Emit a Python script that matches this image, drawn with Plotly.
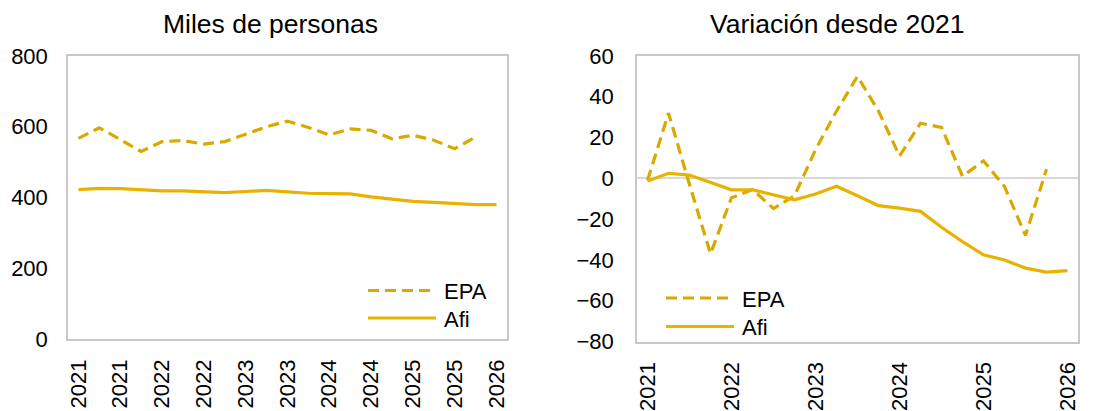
import plotly.graph_objects as go

W, H = 1093, 411

# ---- data ----
quarters = list(range(21))  # 2021Q1 .. 2026Q1
left_ticktext = ["2021", "2021", "2022", "2022", "2023", "2023",
                 "2024", "2024", "2025", "2025", "2026"]
left_tickvals = [0, 2, 4, 6, 8, 10, 12, 14, 16, 18, 20]
right_ticktext = ["2021", "2022", "2023", "2024", "2025", "2026"]
right_tickvals = [0, 4, 8, 12, 16, 20]

epa_level = [567, 597, 564, 530, 558, 561, 551, 558, 579, 600,
             616, 598, 577, 594, 590, 566, 576, 562, 538, 571]
afi_level = [422, 426, 425, 422, 419, 419, 416, 414, 417, 420,
             416, 412, 411, 410, 402, 395, 389, 386, 382, 380, 380]

epa_var = [-1, 32, -3, -37, -9.5, -5.5, -14.8, -8.5, 14, 33,
           50, 33, 11, 27, 25, 1, 8.6, -4, -28, 4.5]
afi_var = [-1.3, 2.5, 1.6, -2, -5.6, -5.6, -8.2, -10.5, -7.7, -3.9,
           -8.5, -13.4, -14.6, -16.2, -24, -31, -37.5, -40, -44, -46, -45.2]

EPA_COLOR = "#DAA900"
AFI_COLOR = "#E8B200"
FONT = "Liberation Sans, Arial, sans-serif"
BORDER = "#C8C8C8"


def px(x):
    return x / W


def py(y):
    return 1 - y / H


fig = go.Figure()

fig.add_trace(go.Scatter(x=quarters[:len(epa_level)], y=epa_level, mode="lines",
                         line=dict(color=EPA_COLOR, width=3.2, dash="11px,6px"),
                         name="EPA", showlegend=False, xaxis="x", yaxis="y"))
fig.add_trace(go.Scatter(x=quarters, y=afi_level, mode="lines",
                         line=dict(color=AFI_COLOR, width=3.2),
                         name="Afi", showlegend=False, xaxis="x", yaxis="y"))
fig.add_trace(go.Scatter(x=quarters[:len(epa_var)], y=epa_var, mode="lines",
                         line=dict(color=EPA_COLOR, width=3.2, dash="11px,6px"),
                         name="EPA", showlegend=False, xaxis="x2", yaxis="y2"))
fig.add_trace(go.Scatter(x=quarters, y=afi_var, mode="lines",
                         line=dict(color=AFI_COLOR, width=3.2),
                         name="Afi", showlegend=False, xaxis="x2", yaxis="y2"))

tickfont = dict(family=FONT, size=22, color="#000000")

fig.update_layout(
    width=W, height=H,
    margin=dict(l=0, r=0, t=0, b=0, autoexpand=False),
    paper_bgcolor="white", plot_bgcolor="white",
    xaxis=dict(domain=[px(68), px(507)], range=[-0.5, 20.5], automargin=False,
               tickvals=left_tickvals, ticktext=left_ticktext, tickangle=-90,
               tickfont=tickfont, ticks="", ticklabelstandoff=10,
               showgrid=False, zeroline=False, showline=True, mirror=True,
               linecolor=BORDER, linewidth=1.5, anchor="y"),
    yaxis=dict(domain=[py(339), py(56)], range=[0, 800], dtick=200, automargin=False,
               tickfont=tickfont, ticks="", ticklabelstandoff=14,
               showgrid=False, zeroline=False, showline=True, mirror=True,
               linecolor=BORDER, linewidth=1.5, anchor="x"),
    xaxis2=dict(domain=[px(637), px(1078)], range=[-0.5, 20.5], automargin=False,
                tickvals=right_tickvals, ticktext=right_ticktext, tickangle=-90,
                tickfont=tickfont, ticks="", ticklabelstandoff=10,
                showgrid=False, zeroline=False, showline=True, mirror=True,
                linecolor=BORDER, linewidth=1.5, anchor="y2"),
    yaxis2=dict(domain=[py(341.5), py(56)], range=[-80, 60], dtick=20, automargin=False,
                tickfont=tickfont, ticks="", ticklabelstandoff=17,
                showgrid=False, zeroline=True, zerolinecolor="#D9D9D9",
                zerolinewidth=1.5, showline=True, mirror=True,
                linecolor=BORDER, linewidth=1.5, anchor="x2"),
)

annotations = [
    dict(text="Miles de personas", x=px(270), y=py(24), xref="paper", yref="paper",
         xanchor="center", yanchor="middle", showarrow=False,
         font=dict(family=FONT, size=26.5, color="#000000")),
    dict(text="Variación desde 2021", x=px(837), y=py(24), xref="paper", yref="paper",
         xanchor="center", yanchor="middle", showarrow=False,
         font=dict(family=FONT, size=26.5, color="#000000")),
]
shapes = []

legends = [
    (368, 436, 442, 290.5, 318.0),
    (666, 734, 740, 298.0, 326.5),
]
for x0, x1, xt, y_epa, y_afi in legends:
    shapes.append(dict(type="line", xref="paper", yref="paper",
                       x0=px(x0), x1=px(x1), y0=py(y_epa), y1=py(y_epa),
                       line=dict(color=EPA_COLOR, width=3.2, dash="11px,6px")))
    shapes.append(dict(type="line", xref="paper", yref="paper",
                       x0=px(x0), x1=px(x1), y0=py(y_afi), y1=py(y_afi),
                       line=dict(color=AFI_COLOR, width=3.2)))
    for label, yy in (("EPA", y_epa), ("Afi", y_afi)):
        annotations.append(dict(text=label, x=px(xt), y=py(yy + 1), xref="paper",
                                yref="paper", xanchor="left", yanchor="middle",
                                showarrow=False,
                                font=dict(family=FONT, size=22, color="#000000")))

fig.update_layout(annotations=annotations, shapes=shapes)

fig.write_html("out.html",
               config={"displayModeBar": False},
               post_script="document.body.style.margin='0';document.body.style.overflow='hidden';")
